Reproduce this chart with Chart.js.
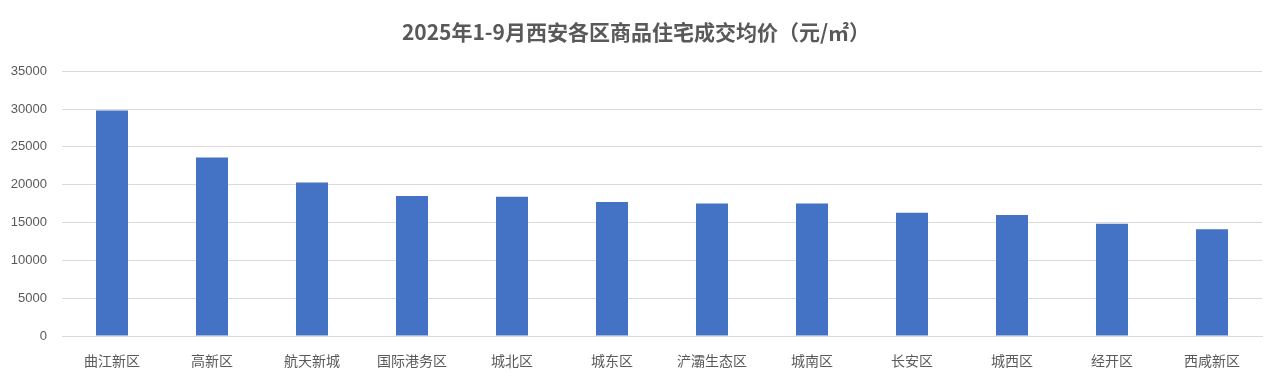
<!DOCTYPE html>
<html>
<head>
<meta charset="utf-8">
<script src="https://cdn.jsdelivr.net/npm/chart.js@4"></script>
<style>
  html, body { margin: 0; padding: 0; background: #ffffff; }
  #wrap { width: 1278px; height: 380px; }
</style>
</head>
<body>
<div id="wrap"><canvas id="c" width="1278" height="380"></canvas></div>
<script>
const titleText = "2025年1-9月西安各区商品住宅成交均价（元/㎡）";
const categories = ["曲江新区", "高新区", "航天新城", "国际港务区", "城北区", "城东区", "浐灞生态区", "城南区", "长安区", "城西区", "经开区", "西咸新区"];
const avgPrice = [29800, 23600, 20300, 18500, 18400, 17700, 17500, 17500, 16300, 16000, 14850, 14100];
const yTicks = [0, 5000, 10000, 15000, 20000, 25000, 30000, 35000];

new Chart(document.getElementById('c'), {
  type: 'bar',
  data: {
    labels: categories,
    datasets: [{
      data: avgPrice,
      backgroundColor: '#4472C4',
      borderWidth: 0,
      barPercentage: 0.64,
      categoryPercentage: 0.5
    }]
  },
  options: {
    responsive: false,
    animation: false,
    devicePixelRatio: 1,
    layout: { padding: { left: 10, right: 16, top: 0, bottom: 10 } },
    plugins: {
      legend: { display: false },
      tooltip: { enabled: false },
      title: {
        display: true,
        text: titleText,
        color: '#595959',
        font: { family: '"Noto Sans CJK SC", sans-serif', size: 21, weight: 'bold' },
        padding: { top: 19, bottom: 27 }
      }
    },
    scales: {
      x: {
        grid: { display: false, drawTicks: false },
        border: { display: true, color: '#d9d9d9', width: 1 },
        afterFit: (axis) => { axis.height = 34; },
        ticks: {
          color: '#595959',
          padding: 16,
          maxRotation: 0,
          autoSkip: false,
          font: { family: '"Noto Sans CJK SC", sans-serif', size: 14 }
        }
      },
      y: {
        min: 0,
        max: 35000,
        afterBuildTicks: (axis) => { axis.ticks = yTicks.map(v => ({ value: v })); },
        afterFit: (axis) => { axis.width = 52; },
        grid: { color: '#d9d9d9', drawTicks: false },
        border: { display: false },
        ticks: {
          color: '#595959',
          padding: 15,
          callback: (v) => String(v),
          font: { family: '"Liberation Sans", sans-serif', size: 13 }
        }
      }
    }
  }
});
</script>
</body>
</html>
